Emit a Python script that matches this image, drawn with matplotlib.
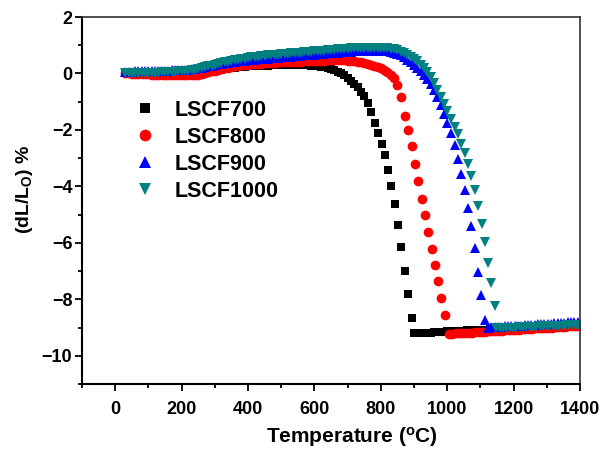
import matplotlib
matplotlib.use("Agg")
import matplotlib.pyplot as plt
from matplotlib.ticker import MultipleLocator

plt.rcParams['font.family'] = ['Liberation Sans', 'DejaVu Sans']
plt.rcParams['font.weight'] = 'bold'
plt.rcParams['mathtext.fontset'] = 'custom'
plt.rcParams['mathtext.rm'] = 'Liberation Sans:bold'
plt.rcParams['mathtext.bf'] = 'Liberation Sans:bold'
plt.rcParams['mathtext.it'] = 'Liberation Sans:bold'

labels = ["LSCF700", "LSCF800", "LSCF900", "LSCF1000"]
colors = ["#000000", "#ff0000", "#0000ff", "#008080"]
markers = ["s", "o", "^", "v"]

# ---------------- LSCF700 ----------------
t700 = [30, 40, 50, 60, 70, 80, 90, 100, 110, 120,
        130, 140, 150, 160, 170, 180, 190, 200, 210, 220,
        230, 240, 250, 260, 270, 280, 290, 300, 310, 320,
        330, 340, 350, 360, 370, 380, 390, 400, 410, 420,
        430, 440, 450, 460, 470, 480, 490, 500, 510, 520,
        530, 540, 550, 560, 570, 580, 590, 600, 610, 620,
        630, 640, 650, 660, 670, 680, 690, 700, 710, 720,
        730, 740, 750, 760, 770, 781, 792, 804, 814, 822,
        832, 842, 852, 862, 873, 882, 894,
        900, 910, 920, 930, 940, 950, 960, 970, 980, 990,
        1000, 1010, 1020, 1030, 1040, 1050, 1060, 1070, 1080, 1090,
        1100, 1110, 1120, 1130, 1140, 1150, 1160, 1170, 1180, 1190,
        1200, 1210, 1220, 1230, 1240, 1250, 1260, 1270, 1280, 1290,
        1300, 1310, 1320, 1330, 1340, 1350, 1360, 1370, 1380, 1390,
        1400]
d700 = [0.00, 0.00, 0.00, 0.00, 0.00, -0.01, -0.01, -0.01, -0.02, -0.02,
        -0.03, -0.03, -0.04, -0.04, -0.05, -0.05, -0.05, -0.05, -0.05, -0.04,
        -0.03, -0.02, 0.00, 0.02, 0.04, 0.06, 0.08, 0.10, 0.12, 0.14,
        0.16, 0.18, 0.19, 0.21, 0.22, 0.23, 0.24, 0.25, 0.26, 0.26,
        0.27, 0.27, 0.28, 0.28, 0.29, 0.29, 0.29, 0.30, 0.30, 0.30,
        0.30, 0.30, 0.30, 0.30, 0.29, 0.29, 0.28, 0.27, 0.26, 0.24,
        0.22, 0.19, 0.15, 0.11, 0.06, 0.00, -0.07, -0.15, -0.25, -0.36,
        -0.49, -0.64, -0.80, -1.05, -1.35, -1.75, -2.12, -2.50, -2.90, -3.43,
        -4.00, -4.64, -5.38, -6.15, -7.00, -7.82, -8.66,
        -9.21, -9.20, -9.20, -9.19, -9.18, -9.18, -9.17, -9.16, -9.16, -9.15,
        -9.14, -9.14, -9.13, -9.12, -9.12, -9.11, -9.10, -9.10, -9.09, -9.08,
        -9.08, -9.07, -9.07, -9.06, -9.06, -9.05, -9.05, -9.04, -9.04, -9.03,
        -9.03, -9.02, -9.02, -9.01, -9.01, -9.00, -9.00, -8.99, -8.99, -8.98,
        -8.98, -8.97, -8.97, -8.96, -8.96, -8.95, -8.95, -8.94, -8.94, -8.93,
        -8.93]

# ---------------- LSCF800 ----------------
t800 = [30, 40, 50, 60, 70, 80, 90, 100, 110, 120,
        130, 140, 150, 160, 170, 180, 190, 200, 210, 220,
        230, 240, 250, 260, 270, 280, 290, 300, 310, 320,
        330, 340, 350, 360, 370, 380, 390, 400, 410, 420,
        430, 440, 450, 460, 470, 480, 490, 500, 510, 520,
        530, 540, 550, 560, 570, 580, 590, 600, 610, 620,
        630, 640, 650, 660, 670, 680, 690, 700, 710, 720,
        730, 740, 750, 760, 770, 780, 790, 800, 810, 820,
        830, 840, 850, 860, 872, 882, 893, 903, 912, 923,
        933, 942, 953, 962, 971, 982, 994,
        1005, 1015, 1025, 1035, 1045, 1055, 1065, 1075, 1085, 1095,
        1105, 1115, 1125, 1135, 1145, 1155, 1165, 1175, 1185, 1195,
        1205, 1215, 1225, 1235, 1245, 1255, 1265, 1275, 1285, 1295,
        1305, 1315, 1325, 1335, 1345, 1355, 1365, 1375, 1385, 1395]
d800 = [0.00, 0.00, -0.01, -0.01, -0.02, -0.02, -0.03, -0.03, -0.04, -0.04,
        -0.05, -0.05, -0.06, -0.06, -0.07, -0.07, -0.07, -0.07, -0.07, -0.07,
        -0.06, -0.05, -0.04, -0.02, 0.01, 0.04, 0.07, 0.10, 0.13, 0.16,
        0.19, 0.21, 0.23, 0.25, 0.27, 0.29, 0.30, 0.31, 0.32, 0.33,
        0.34, 0.35, 0.36, 0.37, 0.37, 0.38, 0.39, 0.39, 0.40, 0.40,
        0.41, 0.41, 0.42, 0.42, 0.43, 0.43, 0.44, 0.44, 0.45, 0.45,
        0.45, 0.46, 0.46, 0.46, 0.46, 0.46, 0.46, 0.45, 0.44, 0.43,
        0.41, 0.39, 0.37, 0.34, 0.31, 0.27, 0.23, 0.18, 0.12, 0.05,
        -0.04, -0.16, -0.40, -0.85, -1.49, -2.02, -2.58, -3.20, -3.81, -4.44,
        -5.03, -5.62, -6.21, -6.80, -7.36, -7.95, -8.57,
        -9.23, -9.22, -9.21, -9.21, -9.20, -9.19, -9.18, -9.18, -9.17, -9.16,
        -9.15, -9.15, -9.14, -9.13, -9.12, -9.12, -9.11, -9.10, -9.09, -9.09,
        -9.08, -9.07, -9.06, -9.06, -9.05, -9.04, -9.03, -9.03, -9.02, -9.01,
        -9.00, -9.00, -8.99, -8.98, -8.97, -8.97, -8.96, -8.95, -8.94, -8.94]

# ---------------- LSCF900 ----------------
t900 = [30, 40, 50, 60, 70, 80, 90, 100, 110, 120,
        130, 140, 150, 160, 170, 180, 190, 200, 210, 220,
        230, 240, 250, 260, 270, 280, 290, 300, 310, 320,
        330, 340, 350, 360, 370, 380, 390, 400, 410, 420,
        430, 440, 450, 460, 470, 480, 490, 500, 510, 520,
        530, 540, 550, 560, 570, 580, 590, 600, 610, 620,
        630, 640, 650, 660, 670, 680, 690, 700, 710, 720,
        730, 740, 750, 760, 770, 780, 790, 800, 810, 820,
        830, 840, 850, 860, 870, 880, 890, 900, 910, 920,
        930, 940, 950, 960, 970, 980, 990, 1000, 1010, 1022,
        1033, 1043, 1053, 1063, 1073, 1083, 1093, 1102, 1113,
        1123, 1133, 1143, 1153, 1163, 1173, 1183, 1193, 1203, 1213,
        1223, 1233, 1243, 1253, 1263, 1273, 1283, 1293, 1303, 1313,
        1323, 1333, 1343, 1353, 1363, 1373, 1383, 1393]
d900 = [0.05, 0.06, 0.06, 0.07, 0.07, 0.08, 0.08, 0.08, 0.09, 0.09,
        0.09, 0.10, 0.10, 0.10, 0.11, 0.11, 0.12, 0.12, 0.13, 0.14,
        0.15, 0.17, 0.19, 0.21, 0.23, 0.26, 0.28, 0.30, 0.32, 0.34,
        0.36, 0.38, 0.40, 0.41, 0.43, 0.44, 0.45, 0.47, 0.48, 0.49,
        0.50, 0.51, 0.52, 0.53, 0.54, 0.55, 0.56, 0.57, 0.58, 0.59,
        0.60, 0.61, 0.62, 0.63, 0.64, 0.65, 0.66, 0.67, 0.68, 0.69,
        0.70, 0.71, 0.72, 0.73, 0.74, 0.75, 0.76, 0.77, 0.77, 0.78,
        0.79, 0.79, 0.80, 0.80, 0.81, 0.81, 0.81, 0.81, 0.80, 0.79,
        0.77, 0.74, 0.70, 0.64, 0.57, 0.49, 0.40, 0.30, 0.19, 0.07,
        -0.06, -0.20, -0.38, -0.60, -0.85, -1.12, -1.42, -1.75, -2.12, -2.55,
        -3.02, -3.55, -4.12, -4.75, -5.42, -6.18, -7.03, -7.86, -8.74,
        -9.00, -8.99, -8.98, -8.98, -8.97, -8.96, -8.96, -8.95, -8.94, -8.93,
        -8.93, -8.92, -8.91, -8.90, -8.90, -8.89, -8.88, -8.87, -8.87, -8.86,
        -8.85, -8.84, -8.84, -8.83, -8.82, -8.81, -8.81, -8.80]

# ---------------- LSCF1000 ----------------
t1000 = [30, 40, 50, 60, 70, 80, 90, 100, 110, 120,
         130, 140, 150, 160, 170, 180, 190, 200, 210, 220,
         230, 240, 250, 260, 270, 280, 290, 300, 310, 320,
         330, 340, 350, 360, 370, 380, 390, 400, 410, 420,
         430, 440, 450, 460, 470, 480, 490, 500, 510, 520,
         530, 540, 550, 560, 570, 580, 590, 600, 610, 620,
         630, 640, 650, 660, 670, 680, 690, 700, 710, 720,
         730, 740, 750, 760, 770, 780, 790, 800, 810, 820,
         830, 840, 850, 860, 870, 880, 890, 900, 910, 920,
         930, 940, 950, 960, 970, 980, 990, 1000, 1011, 1022,
         1033, 1043, 1054, 1064, 1073, 1084, 1093, 1104, 1113, 1123,
         1133, 1143,
         1148, 1158, 1168, 1178, 1188, 1198, 1208, 1218, 1228, 1238,
         1248, 1258, 1268, 1278, 1288, 1298, 1308, 1318, 1328, 1338,
         1348, 1358, 1368, 1378, 1388, 1398]
d1000 = [0.00, 0.00, 0.01, 0.01, 0.01, 0.02, 0.02, 0.02, 0.03, 0.03,
         0.03, 0.04, 0.04, 0.05, 0.05, 0.06, 0.07, 0.08, 0.09, 0.10,
         0.12, 0.14, 0.16, 0.19, 0.22, 0.25, 0.28, 0.31, 0.34, 0.37,
         0.40, 0.42, 0.45, 0.47, 0.49, 0.52, 0.53, 0.55, 0.57, 0.58,
         0.60, 0.61, 0.62, 0.64, 0.65, 0.66, 0.67, 0.68, 0.69, 0.70,
         0.71, 0.72, 0.73, 0.74, 0.75, 0.76, 0.77, 0.78, 0.79, 0.80,
         0.81, 0.82, 0.83, 0.84, 0.85, 0.86, 0.87, 0.88, 0.89, 0.89,
         0.90, 0.91, 0.91, 0.92, 0.92, 0.92, 0.92, 0.92, 0.91, 0.90,
         0.88, 0.85, 0.82, 0.77, 0.72, 0.66, 0.60, 0.52, 0.43, 0.30,
         0.20, 0.05, -0.12, -0.35, -0.59, -0.83, -1.07, -1.33, -1.60, -1.88,
         -2.16, -2.49, -2.82, -3.20, -3.63, -4.14, -4.71, -5.32, -5.97, -6.71,
         -7.44, -8.25,
         -9.03, -9.02, -9.02, -9.01, -9.01, -9.00, -9.00, -8.99, -8.99, -8.98,
         -8.98, -8.97, -8.97, -8.96, -8.96, -8.95, -8.95, -8.94, -8.94, -8.93,
         -8.93, -8.92, -8.92, -8.91, -8.91, -8.90]

temps = [t700, t800, t900, t1000]
values = [d700, d800, d900, d1000]
msizes = [6.0, 7.0, 7.5, 7.5]

xticks = [0, 200, 400, 600, 800, 1000, 1200, 1400]
yticks = [2, 0, -2, -4, -6, -8, -10]

fig = plt.figure(figsize=(6.0, 4.49), dpi=100)
ax = fig.add_axes([0.1367, 0.1448, 0.83, 0.8173])

for t, d, c, m, lab, ms in zip(temps, values, colors, markers, labels, msizes):
    ax.plot(t, d, linestyle='none', marker=m, color=c, markersize=ms,
            markeredgewidth=0, label=lab)

ax.set_xlim(-100, 1400)
ax.set_ylim(-11, 2)
ax.set_xticks(xticks)
ax.set_yticks(yticks)
ax.xaxis.set_minor_locator(MultipleLocator(100))
ax.yaxis.set_minor_locator(MultipleLocator(1))
ax.tick_params(which='major', direction='out', length=5, width=1.3,
               labelsize=13, top=False, right=False)
ax.tick_params(which='minor', direction='out', length=3, width=1.3,
               top=False, right=False)
ax.tick_params(axis='x', which='major', pad=7)
ax.tick_params(axis='y', which='major', pad=2)
for lab in ax.get_xticklabels() + ax.get_yticklabels():
    lab.set_fontweight('bold')

ax.spines['left'].set_linewidth(1.5)
ax.spines['bottom'].set_linewidth(1.5)
ax.spines['top'].set_linewidth(1.2)
ax.spines['right'].set_linewidth(1.2)
ax.spines['top'].set_color('#333333')
ax.spines['right'].set_color('#333333')

ax.set_xlabel(r'Temperature ($^{\mathrm{o}}$C)', fontsize=15,
              fontweight='bold')
ax.xaxis.set_label_coords(0.542, -0.112)
ax.set_ylabel(r'(dL/L$_{\mathrm{O}}$) %', fontsize=14,
              fontweight='bold')
ax.yaxis.set_label_coords(-0.094, 0.53)

leg = ax.legend(loc='upper left', bbox_to_anchor=(0.1056, 0.775),
                frameon=False, fontsize=15.5, handlelength=1.0,
                handletextpad=0.85, labelspacing=0.28, borderpad=0,
                borderaxespad=0, markerscale=1.2, numpoints=1)
for txt in leg.get_texts():
    txt.set_fontweight('bold')

fig.savefig('out.png', dpi=100)
